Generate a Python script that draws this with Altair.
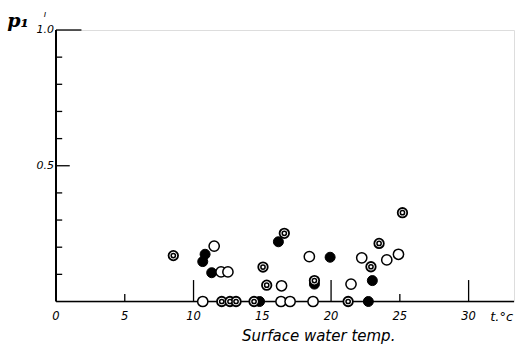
import altair as alt
import pandas as pd

# --- data ---
open_x = [11.5, 12.0, 12.5, 16.4, 18.42, 21.45, 22.23, 24.05, 24.9, 10.67, 16.36, 17.02, 18.69]
open_y = [0.204, 0.109, 0.109, 0.058, 0.165, 0.064, 0.161, 0.153, 0.174, 0, 0, 0, 0]

dbl_x = [8.53, 15.05, 15.32, 16.6, 18.79, 22.9, 23.49, 25.19, 12.05, 12.65, 13.09, 14.4, 21.24]
dbl_y = [0.169, 0.127, 0.06, 0.251, 0.077, 0.128, 0.214, 0.327, 0, 0, 0, 0, 0]

fill_x = [10.84, 10.67, 11.32, 16.17, 19.93, 18.79, 23.0, 14.8, 22.71]
fill_y = [0.174, 0.147, 0.106, 0.22, 0.163, 0.064, 0.077, 0, 0]

x_tick_labels = [0, 5, 10, 15, 20, 25, 30]
x_tall_ticks = [10, 20, 30]
x_short_ticks = [5, 25]
y_minor_ticks = [0.1, 0.2, 0.3, 0.4, 0.6, 0.7, 0.8, 0.9]
y_major_ticks = [0.5, 1.0]
y_major_labels = ["0.5", "1.0"]

XMAX = 33.3
xs = alt.Scale(domain=[0, XMAX], nice=False, zero=False)
ys = alt.Scale(domain=[0, 1], nice=False)

def X(f="x"):
    return alt.X(f"{f}:Q", scale=xs, axis=None)

def Y(f="y"):
    return alt.Y(f"{f}:Q", scale=ys, axis=None)

xaxis = alt.Chart(pd.DataFrame({"x": [0], "x2": [XMAX], "y": [0]})).mark_rule(color="black", strokeWidth=1.5).encode(
    x=X(), x2="x2:Q", y=Y())
yaxis = alt.Chart(pd.DataFrame({"x": [0], "y": [0], "y2": [1]})).mark_rule(color="black", strokeWidth=2).encode(
    x=X(), y=Y(), y2="y2:Q")

tick_df = pd.DataFrame({
    "x": x_tall_ticks + x_short_ticks,
    "y": [0] * 5,
    "y2": [0.079] * 3 + [0.028] * 2,
})
xticks = alt.Chart(tick_df).mark_rule(color="black", strokeWidth=1.3).encode(x=X(), y=Y(), y2="y2:Q")

ytick_df = pd.DataFrame({
    "x": [0] * (len(y_minor_ticks) + 2),
    "x2": [0.45] * len(y_minor_ticks) + [1.0, 1.85],
    "y": y_minor_ticks + y_major_ticks,
})
yticks = alt.Chart(ytick_df).mark_rule(color="black", strokeWidth=1.3).encode(x=X(), x2="x2:Q", y=Y())

ylab = alt.Chart(pd.DataFrame({"y": y_major_ticks, "t": y_major_labels, "x": [0, 0]})).mark_text(
    align="right", baseline="middle", dx=-2, font="DejaVu Sans", fontStyle="italic", fontSize=11, color="black"
).encode(x=X(), y=Y(), text="t:N")

xlab = alt.Chart(pd.DataFrame({"x": x_tick_labels, "y": [0] * len(x_tick_labels)})).mark_text(
    align="center", baseline="middle", dy=15.5, font="DejaVu Sans", fontStyle="italic", fontSize=11.5, color="black"
).encode(x=X(), y=Y(), text="x:Q")

unit = alt.Chart(pd.DataFrame({"x": [32.4], "y": [0], "t": ["t.°c"]})).mark_text(
    align="center", baseline="middle", dy=15.5, font="DejaVu Sans", fontStyle="italic", fontSize=13, color="black"
).encode(x=X(), y=Y(), text="t:N")

xtitle = alt.Chart(pd.DataFrame({"x": [19.1], "y": [0], "t": ["Surface water temp."]})).mark_text(
    align="center", baseline="middle", dy=34, font="DejaVu Sans", fontStyle="italic", fontSize=15, color="black"
).encode(x=X(), y=Y(), text="t:N")

ytitle = alt.Chart(pd.DataFrame({"t": ["p₁"]})).mark_text(
    align="center", baseline="middle", font="DejaVu Serif", fontStyle="italic", fontWeight="bold",
    fontSize=19, color="black"
).encode(x=alt.value(-38), y=alt.value(-9), text="t:N")

mark_tiny = alt.Chart(pd.DataFrame({"t": ["ı"]})).mark_text(
    align="center", baseline="middle", font="DejaVu Sans", fontStyle="italic", fontSize=9, color="black"
).encode(x=alt.value(-11), y=alt.value(-16), text="t:N")

open_df = pd.DataFrame({"x": open_x, "y": open_y})
dbl_df = pd.DataFrame({"x": dbl_x, "y": dbl_y})
fill_df = pd.DataFrame({"x": fill_x, "y": fill_y})

opens = alt.Chart(open_df).mark_point(shape="circle", filled=True, fill="white", stroke="black",
                                      strokeWidth=1.5, size=105, opacity=1).encode(x=X(), y=Y())
dbl_outer = alt.Chart(dbl_df).mark_point(shape="circle", filled=True, fill="white", stroke="black",
                                         strokeWidth=1.8, size=90, opacity=1).encode(x=X(), y=Y())
dbl_inner = alt.Chart(dbl_df).mark_point(shape="circle", filled=True, fill="white", stroke="black",
                                         strokeWidth=1.5, size=18, opacity=1).encode(x=X(), y=Y())
fills = alt.Chart(fill_df).mark_point(shape="circle", filled=True, fill="black", stroke="black",
                                      strokeWidth=1, size=100, opacity=1).encode(x=X(), y=Y())

chart = alt.layer(
    xaxis, yaxis, xticks, yticks, ylab, xlab, unit, xtitle, ytitle, mark_tiny,
    fills, opens, dbl_outer, dbl_inner
).properties(
    width=458, height=271.5,
    autosize="none",
    padding={"left": 56, "top": 30, "right": 4, "bottom": 45.5},
).configure_view(stroke=None).configure(background="white")

chart.save("out.html", embed_options={"renderer": "svg", "actions": False})
